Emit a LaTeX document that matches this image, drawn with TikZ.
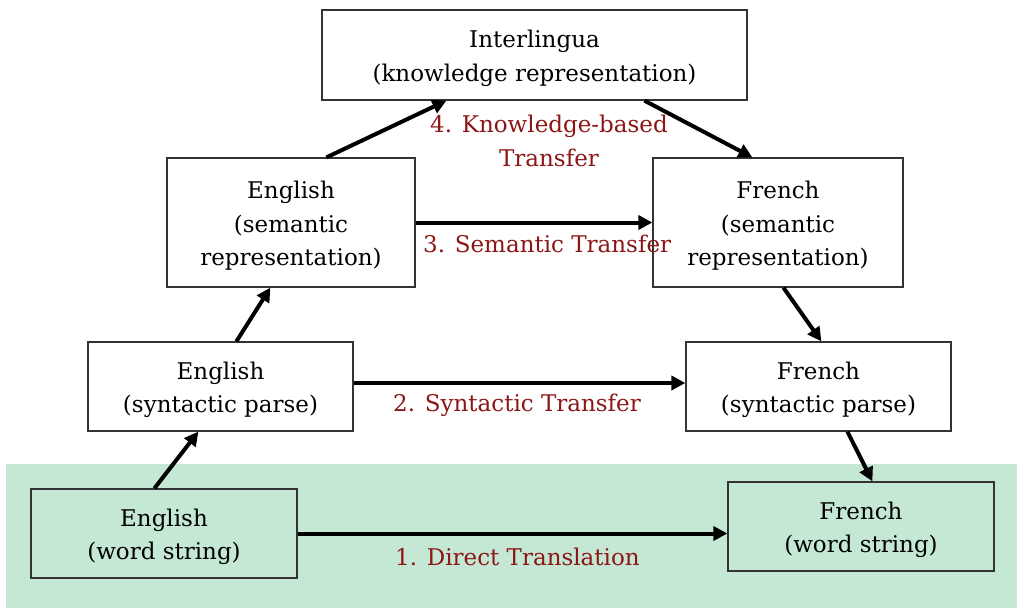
\documentclass[tikz,border=0pt]{standalone}
\usepackage{fontspec}
\setmainfont{DejaVu Serif}
\usetikzlibrary{arrows.meta}
\definecolor{bggreen}{RGB}{196,232,212}
\definecolor{lblred}{RGB}{140,22,22}
\newcommand{\topstrut}{\rule{0pt}{24pt}}
\tikzset{
  box/.style={draw=black!80, line width=1.2pt, align=center, inner sep=0pt, font=\fontsize{23}{33.5}\selectfont},
  arr/.style={line width=4pt, -{Triangle[length=14pt,width=14pt]}, shorten >=0pt},
  lbl/.style={text=lblred, align=center, inner sep=0pt, font=\fontsize{23}{33.5}\selectfont}
}
\begin{document}
\begin{tikzpicture}[x=1pt,y=-1pt]
\useasboundingbox (0,0) rectangle (1024,611);
\fill[bggreen] (6,464) rectangle (1017,608);
\node[box, minimum width=425pt, minimum height=90pt] (il) at (534.5,55) {\topstrut Interlingua\\(knowledge representation)};
\node[box, minimum width=248pt, minimum height=129pt] (esem) at (291,222.5) {\topstrut English\\(semantic\\representation)};
\node[box, minimum width=250pt, minimum height=129pt] (fsem) at (778,222.5) {\topstrut French\\(semantic\\representation)};
\node[box, minimum width=265pt, minimum height=89pt] (esyn) at (220.5,386.5) {\topstrut English\\(syntactic parse)};
\node[box, minimum width=265pt, minimum height=89pt] (fsyn) at (818.5,386.5) {\topstrut French\\(syntactic parse)};
\node[box, minimum width=266pt, minimum height=89pt] (ews) at (164,533.5) {\topstrut English\\(word string)};
\node[box, minimum width=266pt, minimum height=89pt] (fws) at (861,526.5) {\topstrut French\\(word string)};
\draw[arr] ([xshift=124pt]ews.north west) -- ([xshift=111pt]esyn.south west);
\draw[arr] ([xshift=149pt]esyn.north west) -- ([xshift=104pt]esem.south west);
\draw[arr] ([xshift=160pt]esem.north west) -- ([xshift=125pt]il.south west);
\draw[arr] ([xshift=323pt]il.south west) -- ([xshift=100pt]fsem.north west);
\draw[arr] ([xshift=131pt]fsem.south west) -- ([xshift=136pt]fsyn.north west);
\draw[arr] ([xshift=162pt]fsyn.south west) -- ([xshift=145pt]fws.north west);
\draw[arr] (esem.east) -- (fsem.west);
\coordinate (esynr) at ([yshift=3.5pt]esyn.east);
\draw[arr] (esynr) -- (fsyn.west |- esynr);
\coordinate (ewsr) at (ews.east);
\draw[arr] (ewsr) -- (fws.west |- ewsr);
\node[lbl] (l4) at (549,141) {4. Knowledge-based\\Transfer};
\node[lbl, anchor=west] (l3) at (423,244) {3. Semantic Transfer};
\node[lbl, anchor=west] (l2) at (393,405) {2. Syntactic Transfer};
\node[lbl, anchor=west] (l1) at (395,557) {1. Direct Translation};
\end{tikzpicture}
\end{document}
